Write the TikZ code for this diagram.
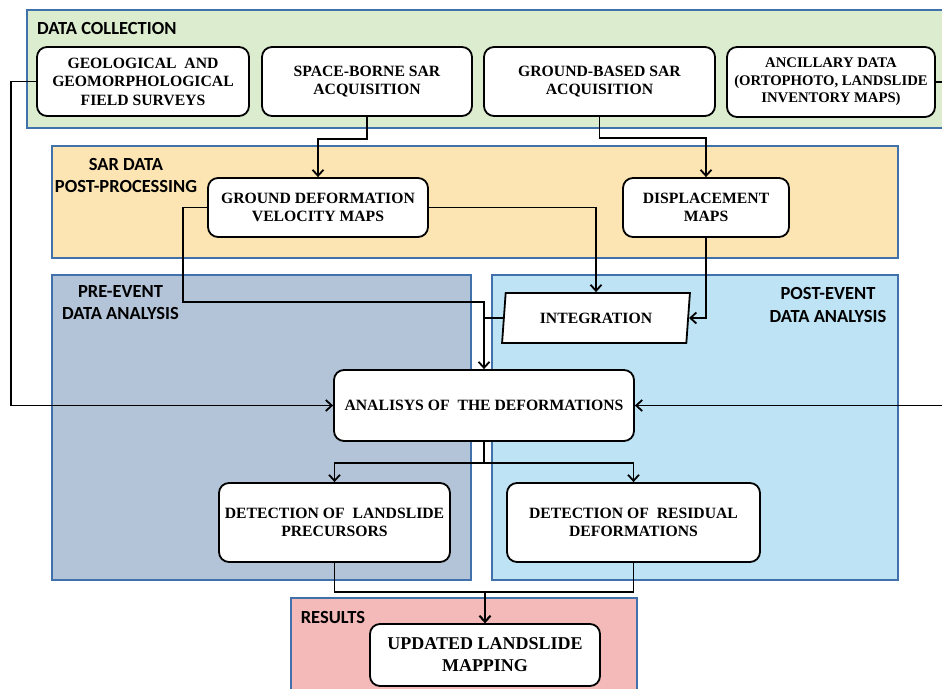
\documentclass[tikz,border=0pt]{standalone}
\usepackage{fontspec}
\setmainfont{Liberation Serif}
\newfontfamily\headfont{Carlito}
\usetikzlibrary{positioning,calc,shapes.geometric,arrows.meta}
\definecolor{panelborder}{RGB}{65,113,170}
\definecolor{collectfill}{RGB}{220,236,206}
\definecolor{sarfill}{RGB}{252,229,178}
\definecolor{prefill}{RGB}{180,196,216}
\definecolor{postfill}{RGB}{189,227,245}
\definecolor{resultfill}{RGB}{244,186,186}
\tikzstyle{panel} = [rectangle, 
draw=panelborder, 
line width=2pt, 
inner sep=0pt]
\tikzstyle{panel_label} = [font=\headfont\fontsize{18.5}{22.5}\selectfont\bfseries, align=center, inner sep=0pt]
\tikzstyle{task_box} = [rectangle, rounded corners=10pt, 
draw=black, 
line width=1.8pt, 
fill=white, 
align=center, 
inner sep=0pt, 
font=\fontsize{15.7}{18.5}\selectfont\bfseries]
\tikzstyle{arrow} = [line width=1.8pt,->,>={Straight Barb[length=6pt,width=11pt]}]
\tikzstyle{link} = [line width=1.8pt]
\begin{document}
\begin{tikzpicture}[x=1pt, y=-1pt]
\useasboundingbox (0,0) rectangle (942,688);

% Draw the coloured panels
\node (Data_Collection) [panel, fill=collectfill, minimum width=935pt, minimum height=118pt] at (494.5,69) {};
\node (SAR_Processing) [panel, fill=sarfill, minimum width=846pt, minimum height=112pt] at (475,202) {};
\node (Pre_Event) [panel, fill=prefill, minimum width=419pt, minimum height=305pt] at (261.5,427.5) {};
\node (Post_Event) [panel, fill=postfill, minimum width=406pt, minimum height=305pt] at (695,427.5) {};
\node (Results) [panel, fill=resultfill, minimum width=346pt, minimum height=110pt] at (464,653) {};

% Panel labels
\node (Data_Collection_Label) [panel_label, anchor=west] at (37,28.5) {DATA COLLECTION};
\node (SAR_Processing_Label) [panel_label] at (126,175.5) {SAR DATA\\POST-PROCESSING};
\node (Pre_Event_Label) [panel_label] at (120.5,302.5) {PRE-EVENT\\DATA ANALYSIS};
\node (Post_Event_Label) [panel_label] at (828,305) {POST-EVENT\\DATA ANALYSIS};
\node (Results_Label) [panel_label] at (333,617) {RESULTS};

% Data collection nodes
\node (Field_Surveys) [task_box, minimum width=212pt, minimum height=69pt] at (143,81.5) {GEOLOGICAL \ AND\\GEOMORPHOLOGICAL\\FIELD SURVEYS};
\node (SpaceBorne_SAR) [task_box, minimum width=210pt, minimum height=69pt] at (367,81.5) {SPACE-BORNE SAR\\ACQUISITION};
\node (GroundBased_SAR) [task_box, minimum width=231pt, minimum height=69pt] at (599.5,81.5) {GROUND-BASED SAR\\ACQUISITION};
\node (Ancillary_Data) [task_box, minimum width=208pt, minimum height=70pt, font=\fontsize{14.7}{17.5}\selectfont\bfseries] at (831,82) {ANCILLARY DATA\\(ORTOPHOTO, LANDSLIDE\\INVENTORY MAPS)};

% Post-processing nodes
\node (Velocity_Maps) [task_box, minimum width=220pt, minimum height=59pt] at (318,207.5) {GROUND DEFORMATION\\VELOCITY MAPS};
\node (Displacement_Maps) [task_box, minimum width=166pt, minimum height=59pt] at (706,207.5) {DISPLACEMENT\\MAPS};

% Analysis nodes
\node (Integration) [task_box, shape=trapezium, rounded corners=0pt, trapezium left angle=78, trapezium right angle=102, trapezium stretches=true, minimum width=188pt, minimum height=50pt] at (596,318) {INTEGRATION};
\node (Analysis) [task_box, minimum width=300pt, minimum height=71pt] at (484,405.5) {ANALISYS OF \ THE DEFORMATIONS};
\node (Precursors) [task_box, minimum width=231pt, minimum height=79pt] at (334.5,522.5) {DETECTION OF \ LANDSLIDE\\PRECURSORS};
\node (Residual) [task_box, minimum width=253pt, minimum height=79pt] at (633.5,522.5) {DETECTION OF \ RESIDUAL\\DEFORMATIONS};

% Result node
\node (Updated_Mapping) [task_box, minimum width=230pt, minimum height=62pt, font=\fontsize{18}{22}\selectfont\bfseries] at (485,655) {UPDATED LANDSLIDE\\MAPPING};

% Side inputs to the analysis
\draw [arrow] (Field_Surveys.west) -- ++(-25,0) |- (Analysis.west);
\draw [arrow] (Ancillary_Data.east) -- ++(20,0) |- (Analysis.east);

% SAR acquisitions to post-processing
\draw [arrow] (SpaceBorne_SAR.south) -- ++(0,22) -| (Velocity_Maps.north);
\draw [arrow] (GroundBased_SAR.south) -- ++(0,21) -| (Displacement_Maps.north);

% Post-processing to analysis
\draw [arrow] (Velocity_Maps.east) -| (Integration.north);
\draw [arrow] (Velocity_Maps.west) -- ++(-24,0) |- ($(Analysis.north)+(0,-67)$) -- (Analysis.north);
\draw [arrow] (Displacement_Maps.south) |- (Integration.east);
\draw [link] (Integration.west) -| ($(Analysis.north)+(0,-20)$);

% Analysis to detections
\draw [arrow] (Analysis.south) -- ++(0,21) -| (Precursors.north);
\draw [arrow] (Analysis.south) -- ++(0,21) -| (Residual.north);

% Detections to results
\draw [arrow] (Precursors.south) -- ++(0,29) -| (Updated_Mapping.north);
\draw [arrow] (Residual.south) -- ++(0,29) -| (Updated_Mapping.north);

\end{tikzpicture}
\end{document}
